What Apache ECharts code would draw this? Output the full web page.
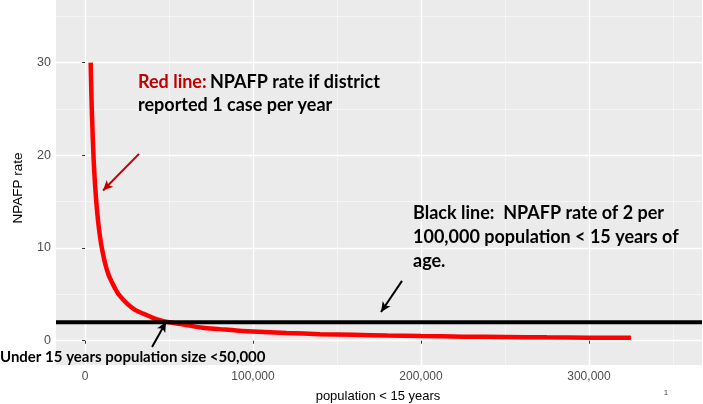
<!DOCTYPE html>
<html><head><meta charset="utf-8">
<script src="https://cdn.jsdelivr.net/npm/echarts@6/dist/echarts.min.js"></script>
<style>html,body{margin:0;padding:0;background:#fff}#c{width:703px;height:404px}</style>
</head><body><div id="c"></div>
<script>
// Data
const population = [3333, 4000, 5000, 6000, 7000, 8000, 9000, 10000, 12000, 14000, 16000, 18000, 20000, 25000, 30000, 35000, 40000, 45000, 50000, 60000, 70000, 80000, 90000, 100000, 120000, 140000, 160000, 180000, 200000, 225000, 250000, 275000, 300000, 325000];
const npafpRate = [30, 25, 20, 16.7, 14.3, 12.5, 11.1, 10, 8.3, 7.1, 6.3, 5.6, 5, 4, 3.3, 2.9, 2.5, 2.2, 2, 1.7, 1.4, 1.25, 1.1, 1.0, 0.83, 0.71, 0.63, 0.56, 0.5, 0.44, 0.4, 0.36, 0.33, 0.31];
const targetRate = 2;
const xTicks = [0, 100000, 200000, 300000];
const xTickLabels = ['0', '100,000', '200,000', '300,000'];
const xMinor = [50000, 150000, 250000, 350000];
const yTicks = [0, 10, 20, 30];
const yTickLabels = ['0', '10', '20', '30'];
const yMinor = [5, 15, 25, 35];
const xRange = [-17300, 367300];
const yRange = [-2.62, 36.75];
// annotation arrows [x1,y1,x2,y2] in data units
const redArrow = [32100, 20.15, 10700, 16.2];
const blackArrow1 = [39900, -0.67, 48200, 2.03];
const blackArrow2 = [188700, 6.45, 176200, 3.1];

const chart = echarts.init(document.getElementById('c'), null, {renderer: 'canvas'});
const grid = {left: 56, right: 1, top: 0, bottom: 39, backgroundColor: '#EBEBEB', show: true, borderWidth: 0};
const baseX = {type: 'value', min: xRange[0], max: xRange[1]};
const baseY = {type: 'value', min: yRange[0], max: yRange[1]};
function arrow(a, color) {
  return [{coord: [a[0], a[1]], lineStyle: {color: color, width: 2, type: 'solid'}}, {coord: [a[2], a[3]]}];
}
chart.setOption({
  animation: false,
  grid: grid,
  xAxis: [
    Object.assign({}, baseX, {
      axisLine: {show: false},
      axisTick: {show: true, length: 3, lineStyle: {color: '#333333', width: 1}, customValues: xTicks},
      axisLabel: {show: true, customValues: xTicks, formatter: v => xTickLabels[xTicks.indexOf(v)], color: '#4D4D4D', fontFamily: 'Liberation Sans', fontSize: 12, margin: 6},
      splitLine: {show: true, lineStyle: {color: '#FFFFFF', width: 1.4}}
    }),
    Object.assign({}, baseX, {
      axisLine: {show: false},
      axisTick: {show: false, customValues: xMinor},
      axisLabel: {show: false, customValues: xMinor},
      splitLine: {show: true, lineStyle: {color: '#F7F7F7', width: 0.8}}
    })
  ],
  yAxis: [
    Object.assign({}, baseY, {
      axisLine: {show: false},
      axisTick: {show: true, length: 3, lineStyle: {color: '#333333', width: 1}, customValues: yTicks},
      axisLabel: {show: true, customValues: yTicks, formatter: v => yTickLabels[yTicks.indexOf(v)], color: '#4D4D4D', fontFamily: 'Liberation Sans', fontSize: 12.5, margin: 5},
      splitLine: {show: true, lineStyle: {color: '#FFFFFF', width: 1.4}}
    }),
    Object.assign({}, baseY, {
      axisLine: {show: false},
      axisTick: {show: false, customValues: yMinor},
      axisLabel: {show: false, customValues: yMinor},
      splitLine: {show: true, lineStyle: {color: '#F7F7F7', width: 0.8}}
    })
  ],
  series: [
    {
      name: 'NPAFP rate (1 case/year)',
      type: 'line', xAxisIndex: 0, yAxisIndex: 0, smooth: 0.3, showSymbol: false, symbol: 'none',
      data: population.map((p, i) => [p, npafpRate[i]]),
      lineStyle: {color: '#FF0000', width: 4.5},
      z: 3,
      markLine: {
        silent: true, animation: false, symbol: ['none', 'arrow'], symbolSize: [7, 10], label: {show: false},
        data: [
          arrow(redArrow, '#C00000'),
          arrow(blackArrow1, '#000000'),
          arrow(blackArrow2, '#000000')
        ]
      }
    },
    {
      name: 'Target rate',
      type: 'line', xAxisIndex: 0, yAxisIndex: 0, showSymbol: false, symbol: 'none',
      data: [[xRange[0], targetRate], [xRange[1], targetRate]],
      lineStyle: {color: '#000000', width: 4},
      z: 4
    }
  ],
  graphic: [
    {type: 'text', z: 100, x: 18, y: 188, rotation: Math.PI / 2, style: {text: 'NPAFP rate', fill: '#000000', font: '13.5px "Liberation Sans"', align: 'center', verticalAlign: 'middle'}},
    {type: 'text', z: 100, x: 378, y: 396, style: {text: 'population < 15 years', fill: '#000000', font: '13px "Liberation Sans"', align: 'center', verticalAlign: 'middle'}},
    {type: 'text', z: 100, x: 666, y: 393, style: {text: '1', fill: '#444444', font: '8px "Liberation Sans"', align: 'center', verticalAlign: 'middle'}},
    {type: 'text', z: 100, x: 138, y: 71, style: {
      rich: {r: {fill: '#C00000', font: 'bold 18px Lato', lineHeight: 23}, k: {fill: '#000000', font: 'bold 18px Lato', lineHeight: 23}},
      text: '{r|Red line:} {k|NPAFP rate if district}\n{k|reported 1 case per year}'
    }},
    {type: 'text', z: 100, x: 413, y: 201, style: {
      fill: '#000000', font: 'bold 18px Lato', lineHeight: 24,
      text: 'Black line:  NPAFP rate of 2 per\n100,000 population < 15 years of\nage.'
    }},
    {type: 'text', z: 100, x: 0, y: 357, style: {fill: '#000000', font: 'bold 15px Lato', text: 'Under 15 years population size <50,000', verticalAlign: 'middle'}}
  ]
});
</script></body></html>
